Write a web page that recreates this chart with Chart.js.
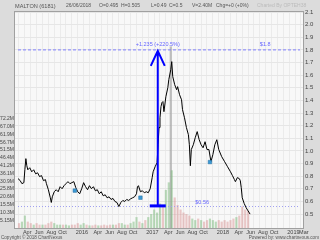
<!DOCTYPE html>
<html lang="en">
<head>
<meta charset="UTF-8">
<title>MALTON (6181)</title>
<script src="https://cdn.jsdelivr.net/npm/chart.js"></script>
<style>
    html, body { margin: 0; padding: 0; background: #dcdcdc; }
    #chart { display: block; }
</style>
</head>
<body>
<canvas id="chart" width="320" height="240"></canvas>
<script>
    // months counted from Jan 2015 (0 = Jan 2015, 12 = Jan 2016 ...)
    const priceMonth = [2.33, 2.67, 3.0, 3.33, 3.5, 3.67, 3.83, 4.0, 4.33, 4.67, 5.0, 5.33, 5.67, 6.0, 6.33, 6.67, 7.0, 7.17, 7.5, 7.83,
        8.0, 8.17, 8.5, 8.83, 9.17, 9.5, 9.83, 10.17, 10.5, 10.83, 11.17, 11.5, 11.83, 12.17, 12.5, 12.83, 13.17, 13.5, 13.83, 14.17,
        14.5, 14.83, 15.17, 15.5, 15.83, 16.17, 16.5, 16.83, 17.17, 17.5, 17.83, 18.17, 18.5, 18.83, 19.17, 19.5, 19.83, 20.17, 20.5, 20.83,
        21.17, 21.5, 21.83, 22.17, 22.5, 22.67, 22.83, 23.17, 23.5, 23.83, 24.17, 24.5, 24.83, 25.17, 25.33, 25.67, 26.0, 26.17, 26.33, 26.5,
        26.67, 26.83, 27.0, 27.17, 27.5, 27.83, 28.0, 28.33, 28.5, 28.67, 29.0, 29.33, 29.5, 29.83, 30.17, 30.33, 30.67, 31.0, 31.33, 31.5,
        31.67, 31.83, 32.17, 32.5, 32.83, 33.17, 33.5, 33.83, 34.17, 34.5, 34.83, 35.17, 35.5, 35.83, 36.17, 36.5, 37.0, 37.5, 38.0, 38.5,
        38.83, 39.17, 39.33, 39.67, 40.0, 40.17, 40.33, 40.5, 40.83, 41.17, 41.5, 41.83];
    const priceClose = [0.781, 0.767, 0.741, 0.749, 0.852, 0.939, 0.883, 0.851, 0.867, 0.835, 0.851, 0.819, 0.827, 0.797, 0.805, 0.765, 0.773, 0.741, 0.693, 0.629,
        0.592, 0.637, 0.677, 0.693, 0.677, 0.717, 0.701, 0.725, 0.741, 0.757, 0.741, 0.749, 0.757, 0.709, 0.677, 0.661, 0.701, 0.749, 0.717, 0.693,
        0.725, 0.701, 0.717, 0.685, 0.693, 0.661, 0.677, 0.645, 0.653, 0.629, 0.637, 0.616, 0.624, 0.600, 0.592, 0.560, 0.592, 0.608, 0.600, 0.616,
        0.608, 0.621, 0.629, 0.637, 0.661, 0.717, 0.725, 0.677, 0.685, 0.669, 0.677, 0.669, 0.701, 0.789, 0.835, 0.875, 0.907, 1.049, 1.185, 1.263,
        1.351, 1.383, 1.391, 1.311, 1.429, 1.501, 1.565, 1.643, 1.707, 1.589, 1.525, 1.485, 1.509, 1.445, 1.405, 1.327, 1.263, 1.185, 1.129, 1.049,
        0.883, 1.011, 1.049, 1.105, 1.153, 1.089, 1.049, 1.025, 1.073, 1.011, 1.011, 0.915, 0.971, 1.049, 1.089, 1.011, 0.955, 0.915, 0.875, 0.835,
        0.805, 0.773, 0.757, 0.789, 0.781, 0.765, 0.709, 0.629, 0.584, 0.550, 0.525, 0.500];

    // volume in millions, 1 = up day, 0 = down day
    const volMonth = [2.5, 3.0, 3.5, 4.0, 4.5, 5.0, 5.5, 6.0, 6.5, 7.0, 7.5, 8.0, 8.5, 9.0, 9.5, 10.0, 10.5, 11.0, 11.5, 12.0,
        12.5, 13.0, 13.5, 14.0, 14.5, 15.0, 15.5, 16.0, 16.5, 17.0, 17.5, 18.0, 18.5, 19.0, 19.5, 20.0, 20.5, 21.0, 21.5, 22.0,
        22.5, 23.0, 23.5, 24.0, 24.5, 25.0, 25.5, 26.0, 26.5, 27.0, 27.5, 28.0, 28.33, 28.5, 29.0, 29.5, 30.0, 30.5, 31.0, 31.5, 32.0,
        32.5, 33.0, 33.5, 34.0, 34.5, 35.0, 35.5, 36.0, 36.5, 37.0, 37.5, 38.0, 38.5, 39.0, 39.5, 40.0, 40.5, 41.0, 41.5];
    const volume = [3, 4, 8, 4, 3, 2, 3, 2, 2, 2, 3, 4, 3, 2, 2, 2, 2, 1.5, 2, 2,
        3, 2, 3, 2, 1.5, 1.5, 2, 1.5, 1.5, 2, 1.5, 2, 2, 2, 3, 3, 2, 2, 3, 4,
        7, 4, 3, 5, 7, 9, 12, 10, 16, 14, 25, 30, 120, 38, 20, 15, 12, 10, 9, 8, 6,
        5, 6, 5, 4, 5, 6, 5, 4, 5, 4, 5, 4, 5, 6, 7, 8, 14, 12, 11];
    const volUp = [0, 1, 1, 0, 0, 1, 0, 0, 1, 0, 0, 0, 1, 1, 1, 0, 1, 1, 0, 0,
        0, 1, 1, 0, 1, 0, 0, 1, 0, 0, 0, 0, 1, 0, 0, 1, 1, 0, 1, 1,
        1, 0, 1, 0, 1, 1, 1, 1, 1, 0, 1, 1, 2, 1, 0, 0, 0, 0, 0, 0, 1,
        1, 0, 1, 0, 0, 1, 1, 1, 0, 0, 0, 0, 0, 0, 1, 0, 0, 0, 0];

    const markMonth = [12.0, 23.17, 35.0];
    const markPrice = [0.686, 0.630, 0.912];

    const xTickMonth = [3, 5, 7, 9, 12, 15, 17, 19, 21, 24, 27, 29, 31, 33, 36, 39, 41, 43, 45, 48, 50];
    const xTickName = ['Apr', 'Jun', 'Aug', 'Oct', '2016', 'Apr', 'Jun', 'Aug', 'Oct', '2017', 'Apr', 'Jun', 'Aug', 'Oct', '2018', 'Apr', 'Jun', 'Aug', 'Oct', '2019', 'Mar'];
    const priceTicks = [0.5, 0.6, 0.7, 0.8, 0.9, 1.0, 1.1, 1.2, 1.3, 1.4, 1.5, 1.6, 1.7, 1.8, 1.9, 2.0, 2.1];
    const volTickName = ['5.15M', '10.3M', '15.5M', '20.6M', '25.8M', '30.9M', '36.1M', '41.2M', '46.4M', '51.5M', '56.7M', '61.9M', '67.0M', '72.2M'];
    const volStep = 5.157;

    const resistance = 1.8;
    const support = 0.56;
    const moveFrom = 0.565;
    const moveMonth = 26.12;

    const xMin = 2.33, xMax = 50.33;
    const font = '"Liberation Sans", Arial, sans-serif';
    const barColors = ['rgba(215,140,140,0.45)', 'rgba(110,180,110,0.45)', 'rgba(150,150,150,0.6)'];

    const gridMonths = [];
    for (let m = 3; m <= 50; m++) gridMonths.push(m);

    const notes = {
        id: 'notes',
        beforeDraw(chart) {
            const c = chart.ctx, a = chart.chartArea;
            c.save();
            c.fillStyle = '#dcdcdc';
            c.fillRect(0, 0, chart.width, chart.height);
            c.fillStyle = '#f8f8f8';
            c.fillRect(a.left, a.top, a.right - a.left, a.bottom - a.top);
            c.restore();
        },
        afterDatasetsDraw(chart) {
            const c = chart.ctx, a = chart.chartArea;
            const x = chart.scales.x, y = chart.scales.price;
            const ax = x.getPixelForValue(moveMonth);
            const top = y.getPixelForValue(resistance);
            const bot = y.getPixelForValue(moveFrom);
            c.save();
            // move arrow
            c.strokeStyle = '#0000ff';
            c.lineWidth = 2;
            c.beginPath();
            c.moveTo(ax, bot);
            c.lineTo(ax, top + 1);
            c.moveTo(ax - 7, top + 16);
            c.lineTo(ax, top + 1);
            c.lineTo(ax + 7, top + 16);
            c.stroke();
            c.lineWidth = 3;
            c.beginPath();
            c.moveTo(ax - 8, bot);
            c.lineTo(ax + 8, bot);
            c.stroke();
            // labels
            c.font = '5.5px ' + font;
            c.fillStyle = '#6666ff';
            c.textBaseline = 'bottom';
            c.textAlign = 'center';
            const diff = resistance - moveFrom;
            c.fillText('+' + diff.toFixed(3) + ' (+' + (diff / support * 100).toFixed(1) + '%)', ax, top - 3);
            c.textAlign = 'left';
            c.fillText('$' + resistance, x.getPixelForValue(43.5), top - 3);
            c.fillText('$' + support, x.getPixelForValue(32.5), y.getPixelForValue(support) - 1);
            // plot frame
            c.strokeStyle = '#a0a0a0';
            c.lineWidth = 1;
            c.strokeRect(a.left - 0.5, a.top - 0.5, a.right - a.left + 1, a.bottom - a.top + 1);
            c.restore();
        },
        afterDraw(chart) {
            const c = chart.ctx;
            c.save();
            c.font = '5px ' + font;
            c.textBaseline = 'middle';
            c.fillStyle = '#555';
            c.font = '5.6px ' + font;
            c.fillText('MALTON (6181)', 15, 6);
            c.font = '5px ' + font;
            [['26/06/2018', 66], ['O=0.495', 99], ['H=0.505', 121], ['L=0.49', 151],
             ['C=0.5', 169], ['V=2.40M', 192], ['Chg=+0 (+0%)', 216]].forEach(t => c.fillText(t[0], t[1], 6));
            c.fillStyle = '#bbbbbb';
            c.fillText('Charted By OPTEH38', 257, 6);
            c.font = '4.6px ' + font;
            c.fillStyle = '#555';
            c.fillText('Copyright \u00a9 2018 ChartNexus', 1, 237.5);
            c.textAlign = 'right';
            c.fillText('Powered by: www.chartnexus.com', 319, 237.5);
            c.restore();
        }
    };

    const ctx = document.getElementById('chart').getContext('2d');
    new Chart(ctx, {
        type: 'bar',
        data: {
            datasets: [{
                type: 'line',
                yAxisID: 'price',
                data: markMonth.map((m, i) => ({ x: m, y: markPrice[i] })),
                showLine: false,
                pointStyle: 'rect',
                pointRadius: 2.5,
                backgroundColor: '#3a9ad6',
                borderColor: '#2a6f9e',
                borderWidth: 0.5,
                order: 0
            }, {
                type: 'line',
                yAxisID: 'price',
                data: priceMonth.map((m, i) => ({ x: m, y: priceClose[i] })),
                borderColor: '#000',
                borderWidth: 1,
                pointRadius: 0,
                order: 1
            }, {
                type: 'line',
                yAxisID: 'price',
                data: [{ x: xMin, y: resistance }, { x: xMax, y: resistance }],
                borderColor: '#8080ff',
                borderWidth: 1,
                borderDash: [3, 2],
                pointRadius: 0,
                order: 2
            }, {
                type: 'line',
                yAxisID: 'price',
                data: [{ x: xMin, y: support }, { x: xMax, y: support }],
                borderColor: '#a0a0f0',
                borderWidth: 1,
                borderDash: [1, 2],
                pointRadius: 0,
                order: 2
            }, {
                type: 'bar',
                yAxisID: 'vol',
                data: volMonth.map((m, i) => ({ x: m, y: volume[i] })),
                backgroundColor: volUp.map(u => barColors[u]),
                barThickness: 1.5,
                order: 3
            }]
        },
        options: {
            responsive: false,
            animation: false,
            layout: { padding: { top: 12, bottom: 5, left: 0, right: 0 } },
            plugins: { legend: { display: false }, tooltip: { enabled: false } },
            scales: {
                x: {
                    type: 'linear',
                    position: 'bottom',
                    min: xMin,
                    max: xMax,
                    afterBuildTicks: s => { s.ticks = gridMonths.map(v => ({ value: v })); },
                    afterFit: s => { s.height = 7; },
                    ticks: {
                        autoSkip: false,
                        maxRotation: 0,
                        align: 'start',
                        padding: 1,
                        labelOffset: 1,
                        color: '#444',
                        font: { size: 5.5, family: font },
                        callback: v => {
                            const i = xTickMonth.indexOf(v);
                            return i < 0 ? '' : xTickName[i];
                        }
                    },
                    grid: { color: '#ebebeb', drawTicks: false },
                    border: { display: false }
                },
                vol: {
                    type: 'linear',
                    position: 'left',
                    min: 0,
                    max: 143,
                    afterBuildTicks: s => { s.ticks = volTickName.map((n, i) => ({ value: (i + 1) * volStep })); },
                    afterFit: s => { s.width = 15; },
                    ticks: {
                        padding: 1,
                        color: '#444',
                        font: { size: 5, family: font },
                        callback: (v, i) => volTickName[i]
                    },
                    grid: { display: false, drawTicks: false },
                    border: { display: false }
                },
                price: {
                    type: 'linear',
                    position: 'right',
                    min: 0.39,
                    max: 2.1,
                    afterBuildTicks: s => { s.ticks = priceTicks.map(v => ({ value: v })); },
                    afterFit: s => { s.width = 17; },
                    ticks: {
                        padding: 2,
                        color: '#444',
                        font: { size: 6, family: font },
                        callback: v => v.toFixed(1)
                    },
                    grid: { color: '#e6e6e6', drawTicks: false },
                    border: { display: false }
                }
            }
        },
        plugins: [notes]
    });
</script>
</body>
</html>
